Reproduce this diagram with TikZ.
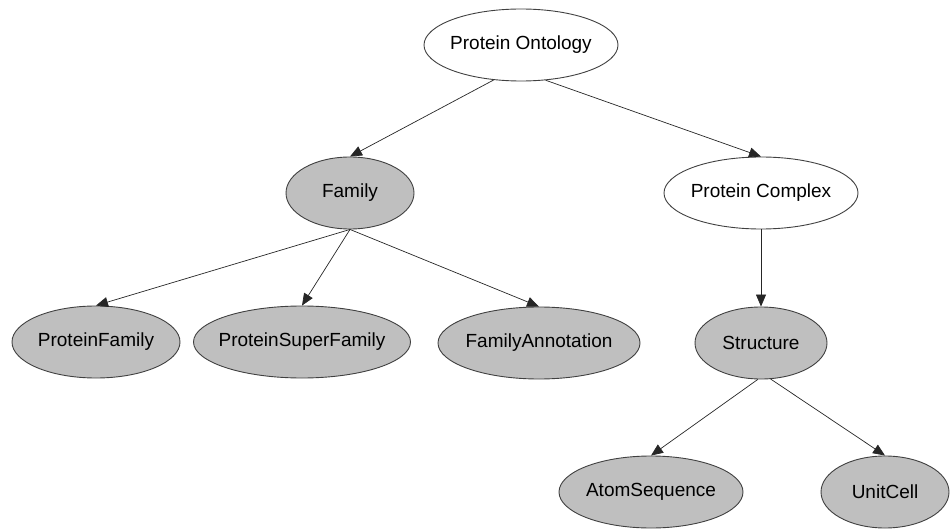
\documentclass[tikz,border=0pt]{standalone}
\usepackage{fontspec}
\setmainfont{Liberation Sans}
\usetikzlibrary{shapes.geometric,arrows.meta}

\begin{document}
\begin{tikzpicture}[x=1pt, y=-1pt,
    every node/.style={font=\fontsize{19}{21}\selectfont},
    onto/.style={ellipse, draw=black!75, line width=0.9pt, inner xsep=-30pt, inner ysep=0pt, minimum height=72pt},
    cls/.style={onto, fill=black!25},
    link/.style={-{Triangle[length=12pt,width=10pt]}, line width=0.7pt, black!85}]
            \useasboundingbox (0, 0) rectangle (952, 529);
            \node[onto, minimum width=194pt] (po) at (521, 45) {Protein Ontology};
            \node[cls, minimum width=128pt] (fam) at (350, 193) {Family};
            \node[onto, minimum width=194pt] (pc) at (761, 193) {Protein Complex};
            \node[cls, minimum width=168pt] (pf) at (96, 342) {ProteinFamily};
            \node[cls, minimum width=217pt] (psf) at (302, 342) {ProteinSuperFamily};
            \node[cls, minimum width=202pt] (fa) at (539, 343) {FamilyAnnotation};
            \node[cls, minimum width=132pt] (st) at (761, 343) {Structure};
            \node[cls, minimum width=184pt] (as) at (651, 492) {AtomSequence};
            \node[cls, minimum width=128pt] (uc) at (885, 492) {UnitCell};
            \draw[link] (po.-128) -- (fam.north);
            \draw[link] (po.-55) -- (pc.north);
            \draw[link] (fam.south) -- (pf.north);
            \draw[link] (fam.south) -- (psf.north);
            \draw[link] (fam.south) -- (fa.north);
            \draw[link] (pc) -- (st);
            \draw[link] (st.-95) -- (as.north);
            \draw[link] (st.-75) -- (uc.north);
        \end{tikzpicture}
\end{document}
